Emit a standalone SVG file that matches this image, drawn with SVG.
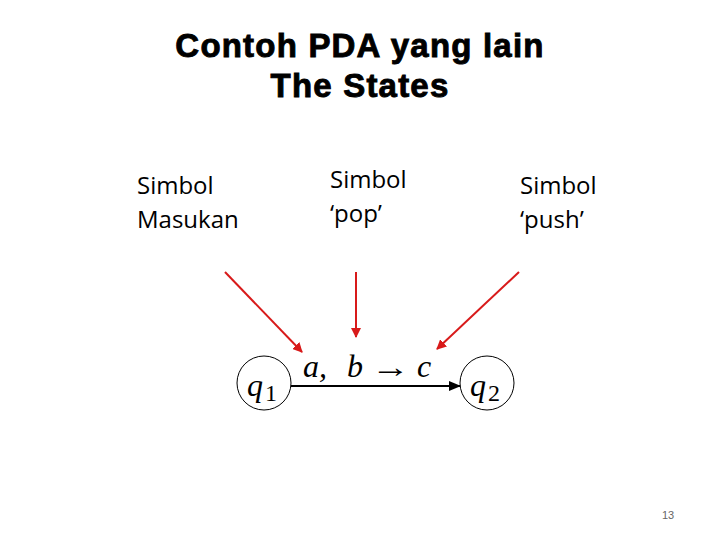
<svg xmlns="http://www.w3.org/2000/svg" width="720" height="540" viewBox="0 0 720 540">
<style>
.title{font-family:"Liberation Sans",Arial,sans-serif;font-weight:bold;font-size:33px;fill:#000;stroke:#000;stroke-width:0.9;text-anchor:middle;letter-spacing:1.2px}
.body{font-family:"Open Sans","Noto Sans",sans-serif;font-size:24px;fill:#000}
.math{font-family:"Liberation Serif","Times New Roman",serif;font-style:italic;font-size:32px;fill:#000}
.sub{font-family:"Liberation Serif","Times New Roman",serif;font-size:24px;fill:#000}
.state{fill:#fff;stroke:#000;stroke-width:1}
.red{stroke:#d81a1a;stroke-width:2;fill:none;marker-end:url(#rh)}
</style>
<defs>
<marker id="rh" markerWidth="10" markerHeight="10" refX="9" refY="5" orient="auto" markerUnits="userSpaceOnUse"><path d="M0,0 L10,5 L0,10 z" fill="#d81a1a"/></marker>
<marker id="bh" markerWidth="12" markerHeight="10" refX="11" refY="5" orient="auto" markerUnits="userSpaceOnUse"><path d="M0,0 L12,5 L0,10 z" fill="#000"/></marker>
</defs>
<rect width="720" height="540" fill="#fff"/>
<text class="title" x="360" y="57">Contoh PDA yang lain</text>
<text class="title" x="360" y="97">The States</text>
<g id="label-masukan"><text class="body" x="137" y="194">Simbol</text><text class="body" x="137" y="228">Masukan</text></g>
<g id="label-pop"><text class="body" x="330" y="188">Simbol</text><text class="body" x="330" y="222">‘pop’</text></g>
<g id="label-push"><text class="body" x="520" y="194">Simbol</text><text class="body" x="520" y="228">‘push’</text></g>
<g id="q1"><circle class="state" cx="264" cy="383" r="27"/><text class="math" x="247" y="396">q</text><text class="sub" x="265" y="401">1</text></g>
<g id="q2"><circle class="state" cx="487" cy="383" r="27"/><text class="math" x="470" y="396">q</text><text class="sub" x="488" y="401">2</text></g>
<g id="connectors">
<line x1="291" y1="386" x2="460" y2="386" stroke="#000" stroke-width="2" marker-end="url(#bh)"/>
<text class="math" x="303" y="377">a,</text>
<text class="math" x="347" y="377">b</text>
<text x="371" y="377" font-family="Liberation Serif,serif" font-size="30" fill="#000" textLength="39" lengthAdjust="spacingAndGlyphs">→</text>
<text class="math" x="417" y="377">c</text>
<line class="red" x1="225" y1="272" x2="302" y2="352"/>
<line class="red" x1="356" y1="272" x2="356" y2="337"/>
<line class="red" x1="519" y1="272" x2="437" y2="349"/>
</g>
<text x="662" y="519" font-family="Liberation Sans,sans-serif" font-size="11" fill="#666">13</text>
</svg>
